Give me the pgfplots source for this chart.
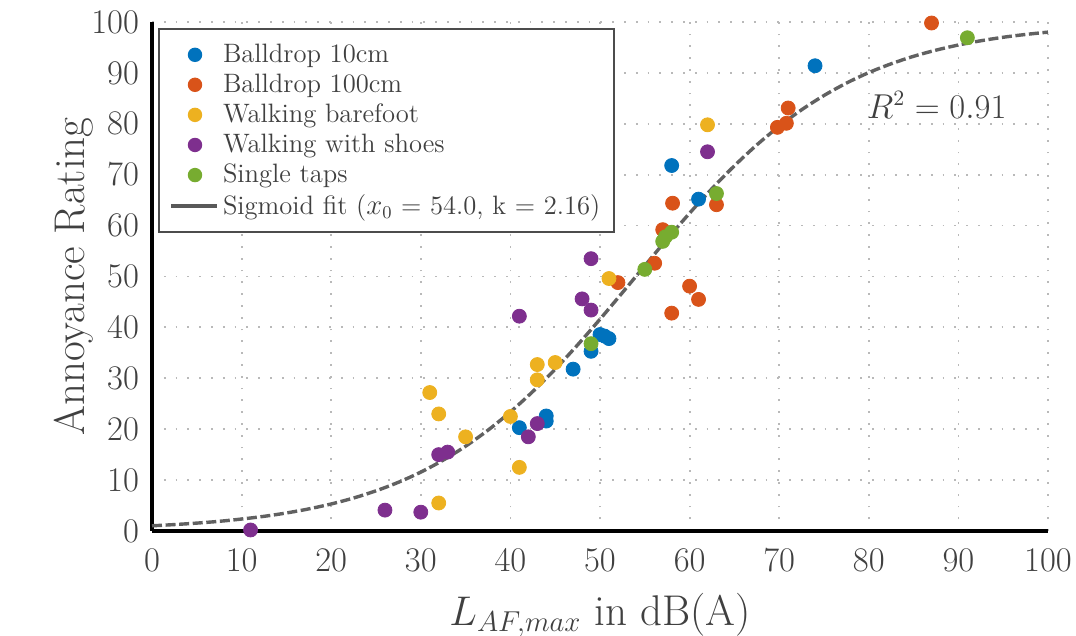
\documentclass[border=0pt]{standalone}
\usepackage{pgfplots}
\pgfplotsset{compat=1.18}
\usetikzlibrary{calc}
\definecolor{mblue}{HTML}{0072BD}
\definecolor{morange}{HTML}{D95319}
\definecolor{myellow}{HTML}{EDB120}
\definecolor{mpurple}{HTML}{7E2F8E}
\definecolor{mgreen}{HTML}{77AC30}
\pgfplotsset{mymark/.style={legend image code/.code={%
  \path[draw=none, fill=none] (0pt,0pt) -- (25pt,0pt);
  \path[only marks, draw=none, mark size=3.1pt] plot coordinates {(13pt,0pt)};}}}
\begin{document}
\begin{tikzpicture}
\begin{axis}[
  name=ax,
  scale only axis,
  width=448pt, height=254.5pt,
  xmin=0, xmax=100, ymin=0, ymax=100,
  xtick={0,10,...,100}, ytick={0,10,...,100},
  axis x line*=bottom, axis y line*=left,
  axis line style={line width=2.4pt, black, -},
  major tick length=0pt,
  clip=false,
  grid=major,
  grid style={gray!55, line width=0.9pt, dash pattern=on 0.9pt off 5pt},
  tick label style={font=\fontsize{17.5}{20}\selectfont, text=black!75},
  xticklabel style={yshift=-5.5pt},
  yticklabel style={xshift=-3pt},
  xlabel={$L_{AF,max}$ in dB(A)},
  ylabel={Annoyance Rating},
  label style={font=\fontsize{21.5}{24}\selectfont, text=black!75},
  xlabel style={yshift=-4pt},
  ylabel style={yshift=-8pt},
  legend cell align=left,
  legend style={at={(0.0067,0.988)}, anchor=north west, draw=black!70, line width=1pt,
    fill=white, font=\fontsize{13.3}{15}\selectfont, text=black!75, row sep=0.25pt,
    inner xsep=5pt, inner ysep=5.5pt},
  every axis plot/.append style={only marks, mark=*, mark size=3.5pt, mark options={draw=none}},
]
\addplot[mblue, mark options={fill=mblue, draw=none}, mymark] coordinates {
(41,20.3) (44,22.6) (44,21.6) (47,31.8) (49,35.3) (50,38.6) (51,37.8) (50.5,38.3)
(58,71.8) (61,65.2) (74,91.4)};
\addlegendentry{Balldrop 10cm}
\addplot[morange, mark options={fill=morange, draw=none}, mymark] coordinates {
(87,99.8) (71,83.1) (70.8,80.1) (69.8,79.3) (58.1,64.4) (63,64.1) (57,59.2)
(56.1,52.6) (52,48.8) (60,48.1) (61,45.5) (58,42.8)};
\addlegendentry{Balldrop 100cm}
\addplot[myellow, mark options={fill=myellow, draw=none}, mymark] coordinates {
(62,79.8) (51,49.6) (45,33.1) (43,32.7) (43,29.7) (40,22.5) (31,27.2) (32,23)
(35,18.5) (41,12.5) (32,5.5)};
\addlegendentry{Walking barefoot}
\addplot[mpurple, mark options={fill=mpurple, draw=none}, mymark] coordinates {
(62,74.5) (49,53.5) (48,45.6) (49,43.4) (41,42.2) (43,21.1) (42,18.5) (33,15.5)
(32,15) (26,4.1) (30,3.7) (11,0.2)};
\addlegendentry{Walking with shoes}
\addplot[mgreen, mark options={fill=mgreen, draw=none}, mymark] coordinates {
(91,96.9) (63,66.3) (58,58.7) (57,56.9) (57.3,57.8) (55,51.4) (49,36.8)};
\addlegendentry{Single taps}
\addplot[no marks, sharp plot, black!62, line width=1.7pt, dash pattern=on 5pt off 1.8pt, smooth,
  legend image code/.code={\draw[solid, line width=2pt, black!65] (1pt,0pt) -- (24pt,0pt);}] coordinates {
(0,1.02) (2.5,1.26) (5,1.55) (7.5,1.90) (10,2.35) (12.5,2.88) (15,3.54) (17.5,4.34)
(20,5.31) (22.5,6.48) (25,7.89) (27.5,9.57) (30,11.57) (32.5,13.92) (35,16.66)
(37.5,19.81) (40,23.39) (42.5,27.40) (45,31.80) (47.5,36.56) (50,41.61) (52.5,46.83)
(55,52.12) (57.5,57.38) (60,62.44) (62.5,67.27) (65,71.75) (67.5,75.85) (70,79.51)
(72.5,82.75) (75,85.56) (77.5,87.99) (80,90.06) (82.5,91.79) (85,93.26) (87.5,94.47)
(90,95.48) (92.5,96.31) (95,97.00) (97.5,97.55) (100,98.01)};
\addlegendentry{Sigmoid fit ($x_0$ = 54.0, k = 2.16)}
\node[font=\fontsize{16}{18}\selectfont, text=black!75] at (axis cs:87.6,83.7) {$R^2 = 0.91$};
\end{axis}
\pgfresetboundingbox
\path (ax.south west) ++(-76pt,-52.5pt) rectangle ($(ax.north east)+(14pt,11pt)$);
\end{tikzpicture}
\end{document}
